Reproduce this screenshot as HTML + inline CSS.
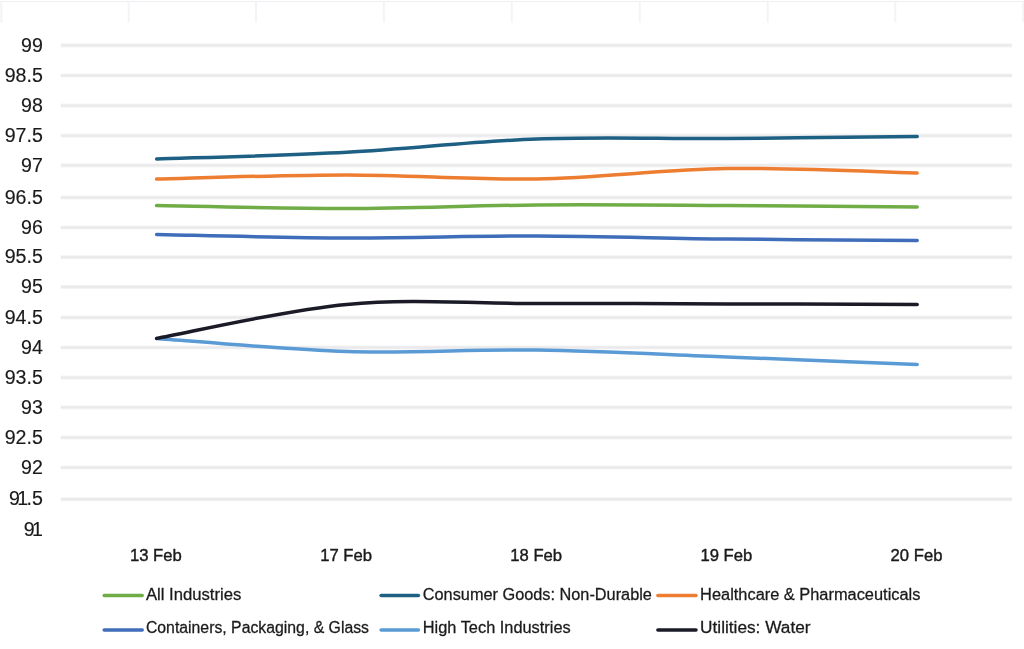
<!DOCTYPE html>
<html><head><meta charset="utf-8"><title>Chart</title>
<style>
html,body{margin:0;padding:0;background:#fff;}
body{width:1024px;height:649px;overflow:hidden;position:relative;font-family:"Liberation Sans",sans-serif;}
svg{position:absolute;left:0;top:0;display:block;}
.cells .h{stroke:#edeff3;stroke-width:1.2;}
.cells .v{stroke:#f3f4f7;stroke-width:2;}
.grid .g1{stroke:#f6f6f7;stroke-width:4.2;}
.grid .g2{stroke:#eaeaec;stroke-width:2.4;}
.ylab text{font-family:"Liberation Sans",sans-serif;font-size:19.6px;fill:#1a1a1a;stroke:#1a1a1a;stroke-width:0.15px;text-anchor:end;}
.xlab text{font-family:"Liberation Sans",sans-serif;font-size:17.3px;fill:#1a1a1a;stroke:#1a1a1a;stroke-width:0.42px;text-anchor:middle;}
.leg text{font-family:"Liberation Sans",sans-serif;font-size:15.6px;fill:#1a1a1a;stroke:#1a1a1a;stroke-width:0.26px;}
.series path{fill:none;stroke-width:3.5;stroke-linecap:round;stroke-linejoin:round;}
.leg line{stroke-width:3.5;stroke-linecap:round;}
</style></head><body>
<svg width="1024" height="649" viewBox="0 0 1024 649">
<rect width="1024" height="649" fill="#fff"/>
<g class="cells">
<line class="v" x1="1.3" x2="1.3" y1="1" y2="22.6"/>
<line class="v" x1="128.6" x2="128.6" y1="1" y2="22.6"/>
<line class="v" x1="256.0" x2="256.0" y1="1" y2="22.6"/>
<line class="v" x1="383.9" x2="383.9" y1="1" y2="22.6"/>
<line class="v" x1="511.8" x2="511.8" y1="1" y2="22.6"/>
<line class="v" x1="639.8" x2="639.8" y1="1" y2="22.6"/>
<line class="v" x1="767.7" x2="767.7" y1="1" y2="22.6"/>
<line class="v" x1="895.3" x2="895.3" y1="1" y2="22.6"/>
<line class="v" x1="1023.2" x2="1023.2" y1="1" y2="22.6"/>
<line class="h" x1="0" x2="1024" y1="1.5" y2="1.5"/>
</g>
<g class="grid">
<line class="g1" x1="60.8" x2="1012" y1="45.40" y2="45.40"/><line class="g2" x1="60.8" x2="1012" y1="45.40" y2="45.40"/>
<line class="g1" x1="60.8" x2="1012" y1="75.50" y2="75.50"/><line class="g2" x1="60.8" x2="1012" y1="75.50" y2="75.50"/>
<line class="g1" x1="60.8" x2="1012" y1="105.60" y2="105.60"/><line class="g2" x1="60.8" x2="1012" y1="105.60" y2="105.60"/>
<line class="g1" x1="60.8" x2="1012" y1="135.60" y2="135.60"/><line class="g2" x1="60.8" x2="1012" y1="135.60" y2="135.60"/>
<line class="g1" x1="60.8" x2="1012" y1="165.40" y2="165.40"/><line class="g2" x1="60.8" x2="1012" y1="165.40" y2="165.40"/>
<line class="g1" x1="60.8" x2="1012" y1="197.50" y2="197.50"/><line class="g2" x1="60.8" x2="1012" y1="197.50" y2="197.50"/>
<line class="g1" x1="60.8" x2="1012" y1="227.50" y2="227.50"/><line class="g2" x1="60.8" x2="1012" y1="227.50" y2="227.50"/>
<line class="g1" x1="60.8" x2="1012" y1="257.20" y2="257.20"/><line class="g2" x1="60.8" x2="1012" y1="257.20" y2="257.20"/>
<line class="g1" x1="60.8" x2="1012" y1="287.00" y2="287.00"/><line class="g2" x1="60.8" x2="1012" y1="287.00" y2="287.00"/>
<line class="g1" x1="60.8" x2="1012" y1="317.50" y2="317.50"/><line class="g2" x1="60.8" x2="1012" y1="317.50" y2="317.50"/>
<line class="g1" x1="60.8" x2="1012" y1="347.50" y2="347.50"/><line class="g2" x1="60.8" x2="1012" y1="347.50" y2="347.50"/>
<line class="g1" x1="60.8" x2="1012" y1="377.60" y2="377.60"/><line class="g2" x1="60.8" x2="1012" y1="377.60" y2="377.60"/>
<line class="g1" x1="60.8" x2="1012" y1="407.40" y2="407.40"/><line class="g2" x1="60.8" x2="1012" y1="407.40" y2="407.40"/>
<line class="g1" x1="60.8" x2="1012" y1="437.50" y2="437.50"/><line class="g2" x1="60.8" x2="1012" y1="437.50" y2="437.50"/>
<line class="g1" x1="60.8" x2="1012" y1="467.50" y2="467.50"/><line class="g2" x1="60.8" x2="1012" y1="467.50" y2="467.50"/>
<line class="g1" x1="60.8" x2="1012" y1="499.20" y2="499.20"/><line class="g2" x1="60.8" x2="1012" y1="499.20" y2="499.20"/>
</g>
<g class="series">
<path d="M156.60 338.40 C188.29 340.58 283.37 349.57 346.75 351.50 C410.13 353.43 473.52 349.08 536.90 350.00 C600.28 350.92 663.67 354.58 727.05 357.00 C790.43 359.42 885.51 363.25 917.20 364.50" stroke="#5b9bd5"/>
<path d="M156.60 338.40 C188.29 332.73 283.37 310.22 346.75 304.40 C410.13 298.58 473.52 303.58 536.90 303.50 C600.28 303.42 663.67 303.75 727.05 303.90 C790.43 304.05 885.51 304.32 917.20 304.40" stroke="#1b1b28"/>
<path d="M156.60 234.50 C188.29 235.08 283.37 237.75 346.75 238.00 C410.13 238.25 473.52 235.83 536.90 236.00 C600.28 236.17 663.67 238.25 727.05 239.00 C790.43 239.75 885.51 240.25 917.20 240.50" stroke="#3f6dba"/>
<path d="M156.60 205.60 C188.29 206.08 283.37 208.60 346.75 208.50 C410.13 208.40 473.52 205.50 536.90 205.00 C600.28 204.50 663.67 205.17 727.05 205.50 C790.43 205.83 885.51 206.75 917.20 207.00" stroke="#70ad47"/>
<path d="M156.60 179.10 C188.29 178.40 283.37 174.92 346.75 174.90 C410.13 174.88 473.52 180.05 536.90 179.00 C600.28 177.95 663.67 169.60 727.05 168.60 C790.43 167.60 885.51 172.27 917.20 173.00" stroke="#ed7d31"/>
<path d="M156.60 159.00 C188.29 157.88 283.37 155.63 346.75 152.30 C410.13 148.97 473.52 141.30 536.90 139.00 C600.28 136.70 663.67 138.92 727.05 138.50 C790.43 138.08 885.51 136.83 917.20 136.50" stroke="#1d6083"/>
</g>
<g class="ylab">
<text x="42.8" y="51.55">99</text>
<text x="42.8" y="81.65">98.5</text>
<text x="42.8" y="111.75">98</text>
<text x="42.8" y="141.75">97.5</text>
<text x="42.8" y="171.55">97</text>
<text x="42.8" y="203.65">96.5</text>
<text x="42.8" y="233.65">96</text>
<text x="42.8" y="263.35">95.5</text>
<text x="42.8" y="293.15">95</text>
<text x="42.8" y="323.65">94.5</text>
<text x="42.8" y="353.65">94</text>
<text x="42.8" y="383.75">93.5</text>
<text x="42.8" y="413.55">93</text>
<text x="42.8" y="443.65">92.5</text>
<text x="42.8" y="473.65">92</text>
<text x="42.8" y="505.35">9<tspan dx="-2.7">1</tspan><tspan dx="-1.6">.5</tspan></text>
<text x="42.8" y="535.55">9<tspan dx="-2.7">1</tspan></text>
</g>
<g class="xlab">
<text x="155.9" y="561.4" textLength="51.8" lengthAdjust="spacingAndGlyphs">13 Feb</text>
<text x="346.1" y="561.4" textLength="51.8" lengthAdjust="spacingAndGlyphs">17 Feb</text>
<text x="536.2" y="561.4" textLength="51.8" lengthAdjust="spacingAndGlyphs">18 Feb</text>
<text x="726.4" y="561.4" textLength="51.8" lengthAdjust="spacingAndGlyphs">19 Feb</text>
<text x="916.5" y="561.4" textLength="51.8" lengthAdjust="spacingAndGlyphs">20 Feb</text>
</g>
<g class="leg">
<line x1="104.2" x2="142.2" y1="595.5" y2="595.5" stroke="#70ad47"/>
<text x="145.9" y="599.8" textLength="95.5" lengthAdjust="spacingAndGlyphs">All Industries</text>
<line x1="381.1" x2="418.4" y1="595.5" y2="595.5" stroke="#1d6083"/>
<text x="422.8" y="599.8" textLength="229.1" lengthAdjust="spacingAndGlyphs">Consumer Goods: Non-Durable</text>
<line x1="657.9" x2="696.0" y1="595.5" y2="595.5" stroke="#ed7d31"/>
<text x="700.1" y="599.8" textLength="220.3" lengthAdjust="spacingAndGlyphs">Healthcare &amp; Pharmaceuticals</text>
<line x1="104.2" x2="142.2" y1="630.0" y2="630.0" stroke="#3f6dba"/>
<text x="145.9" y="632.7" textLength="223.1" lengthAdjust="spacingAndGlyphs">Containers, Packaging, &amp; Glass</text>
<line x1="381.1" x2="418.4" y1="630.0" y2="630.0" stroke="#5b9bd5"/>
<text x="422.8" y="632.7" textLength="147.9" lengthAdjust="spacingAndGlyphs">High Tech Industries</text>
<line x1="657.9" x2="696.0" y1="630.0" y2="630.0" stroke="#1b1b28"/>
<text x="700.1" y="632.7" textLength="110.4" lengthAdjust="spacingAndGlyphs">Utilities: Water</text>
</g>
</svg>
</body></html>
